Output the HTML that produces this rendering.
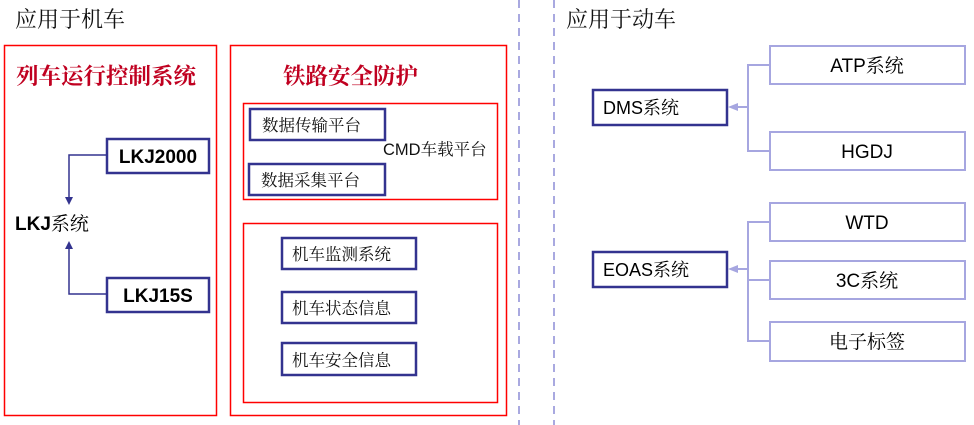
<!DOCTYPE html>
<html><head><meta charset="utf-8"><style>
html,body{margin:0;padding:0;background:#fff;}
svg{display:block;}
text{font-family:"Liberation Sans","Noto Serif CJK SC","Noto Sans CJK SC",sans-serif;}
.cj{font-family:"Noto Serif CJK SC","Noto Sans CJK SC",serif;}
</style></head><body>
<svg width="974" height="425" viewBox="0 0 974 425" xmlns="http://www.w3.org/2000/svg">
<defs>
<marker id="an" markerWidth="8" markerHeight="8" refX="4" refY="4" orient="auto" markerUnits="userSpaceOnUse"><path d="M0,0 L8,4 L0,8 z" fill="#33338f"/></marker>
<marker id="al" markerWidth="10" markerHeight="10" refX="5" refY="5" orient="auto" markerUnits="userSpaceOnUse"><path d="M0,1 L10,5 L0,9 z" fill="#a6a6e0"/></marker>
</defs>
<text x="15" y="27" font-size="22" fill="#111" class="cj">应用于机车</text>
<text x="566" y="27" font-size="22" fill="#111" class="cj">应用于动车</text>
<line x1="519" y1="0" x2="519" y2="425" stroke="#a9a9e0" stroke-width="2" stroke-dasharray="8,6"/>
<line x1="554" y1="0" x2="554" y2="425" stroke="#a9a9e0" stroke-width="2" stroke-dasharray="8,6"/>
<rect x="4.5" y="45.5" width="212" height="370" fill="none" stroke="#f00" stroke-width="1.5"/>
<text x="16" y="84" font-size="22.5" fill="#c00020" class="cj" font-weight="bold">列车运行控制系统</text>
<rect x="107" y="139" width="102" height="34" fill="#fff" stroke="#33338f" stroke-width="2.5"/>
<text x="158" y="163" font-size="19" font-weight="bold" text-anchor="middle" fill="#000">LKJ2000</text>
<rect x="107" y="278" width="102" height="34" fill="#fff" stroke="#33338f" stroke-width="2.5"/>
<text x="158" y="302" font-size="19" font-weight="bold" text-anchor="middle" fill="#000">LKJ15S</text>
<text x="15" y="230" font-size="19" font-weight="bold" fill="#000">LKJ<tspan class="cj" font-weight="normal">系统</tspan></text>
<polyline points="107,155 69,155 69,201" fill="none" stroke="#33338f" stroke-width="1.5" marker-end="url(#an)"/>
<polyline points="107,294 69,294 69,245" fill="none" stroke="#33338f" stroke-width="1.5" marker-end="url(#an)"/>
<rect x="230.5" y="45.5" width="276" height="370" fill="none" stroke="#f00" stroke-width="1.5"/>
<text x="283" y="84" font-size="22.5" fill="#c00020" class="cj" font-weight="bold">铁路安全防护</text>
<rect x="243.5" y="103.5" width="254" height="96" fill="none" stroke="#f00" stroke-width="1.5"/>
<rect x="250" y="109" width="135" height="31" fill="#fff" stroke="#33338f" stroke-width="2.5"/>
<text x="262" y="131" font-size="16.5" class="cj" fill="#111">数据传输平台</text>
<rect x="249" y="164" width="136" height="31" fill="#fff" stroke="#33338f" stroke-width="2.5"/>
<text x="261" y="186" font-size="16.5" class="cj" fill="#111">数据采集平台</text>
<text x="383" y="155" font-size="16.5" fill="#111">CMD<tspan class="cj">车载平台</tspan></text>
<rect x="243.5" y="223.5" width="254" height="179" fill="none" stroke="#f00" stroke-width="1.5"/>
<rect x="282" y="238" width="134" height="31" fill="#fff" stroke="#33338f" stroke-width="2.5"/>
<text x="292" y="260" font-size="16.5" class="cj" fill="#111">机车监测系统</text>
<rect x="282" y="292" width="134" height="31" fill="#fff" stroke="#33338f" stroke-width="2.5"/>
<text x="292" y="314" font-size="16.5" class="cj" fill="#111">机车状态信息</text>
<rect x="282" y="343" width="134" height="32" fill="#fff" stroke="#33338f" stroke-width="2.5"/>
<text x="292" y="366" font-size="16.5" class="cj" fill="#111">机车安全信息</text>
<rect x="593" y="90" width="134" height="35" fill="#fff" stroke="#33338f" stroke-width="2.5"/>
<text x="603" y="114" font-size="18" fill="#000">DMS<tspan class="cj">系统</tspan></text>
<rect x="593" y="252" width="134" height="35" fill="#fff" stroke="#33338f" stroke-width="2.5"/>
<text x="603" y="276" font-size="18" fill="#000">EOAS<tspan class="cj">系统</tspan></text>
<g stroke="#a6a6e0" stroke-width="2" fill="none">
<polyline points="770,65 748,65 748,151 770,151"/>
<line x1="748" y1="107" x2="733" y2="107" marker-end="url(#al)"/>
<polyline points="770,222 748,222 748,341 770,341"/>
<line x1="748" y1="280" x2="770" y2="280"/>
<line x1="748" y1="269" x2="733" y2="269" marker-end="url(#al)"/>
<rect x="770" y="46" width="195" height="38" fill="#fff"/>
<rect x="770" y="132" width="195" height="38" fill="#fff"/>
<rect x="770" y="203" width="195" height="38" fill="#fff"/>
<rect x="770" y="261" width="195" height="38" fill="#fff"/>
<rect x="770" y="322" width="195" height="39" fill="#fff"/>
</g>
<text x="867" y="72" font-size="19" text-anchor="middle" fill="#000">ATP<tspan class="cj">系统</tspan></text>
<text x="867" y="158" font-size="19" text-anchor="middle" fill="#000">HGDJ</text>
<text x="867" y="229" font-size="19" text-anchor="middle" fill="#000">WTD</text>
<text x="867" y="287" font-size="19" text-anchor="middle" fill="#000">3C<tspan class="cj">系统</tspan></text>
<text x="867" y="348" font-size="19" text-anchor="middle" class="cj" fill="#000">电子标签</text>
</svg>
</body></html>
